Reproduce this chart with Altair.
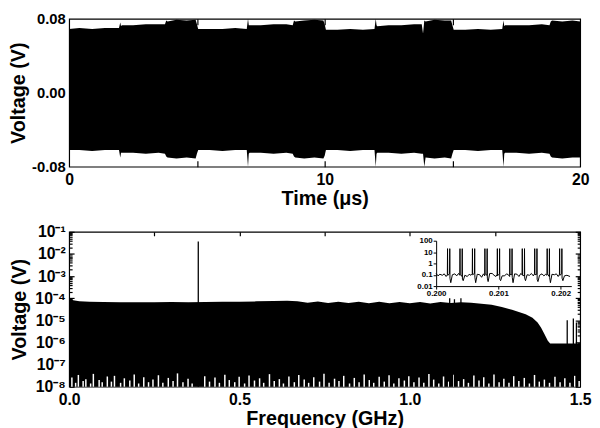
import altair as alt
import pandas as pd

# ---------------- top panel: time-domain envelope ----------------
t_us = [0.00, 0.40, 0.90, 1.40, 1.95, 2.00, 2.03, 2.06, 2.50, 3.00,
        3.50, 3.75, 3.80, 3.85, 4.20, 4.60, 4.95, 5.00, 5.05, 5.50,
        6.00, 6.50, 6.95, 7.00, 7.03, 7.06, 7.50, 8.00, 8.50, 8.75,
        8.80, 8.85, 9.20, 9.60, 9.95, 10.00, 10.05, 10.50, 11.00, 11.50,
        11.95, 12.00, 12.03, 12.06, 12.50, 13.00, 13.50, 13.80, 13.85, 13.90,
        13.95, 14.30, 14.70, 14.95, 15.00, 15.05, 15.50, 16.00, 16.50, 16.95,
        17.00, 17.03, 17.06, 17.50, 18.00, 18.50, 18.80, 18.85, 18.90, 19.30,
        19.70, 20.00]
v_upper = [0.069, 0.070, 0.069, 0.070, 0.070, 0.076, 0.072, 0.073, 0.073, 0.074,
           0.074, 0.074, 0.078, 0.077, 0.079, 0.078, 0.079, 0.074, 0.069, 0.069,
           0.069, 0.070, 0.069, 0.080, 0.073, 0.073, 0.073, 0.074, 0.074, 0.073,
           0.078, 0.077, 0.078, 0.079, 0.078, 0.074, 0.068, 0.068, 0.069, 0.068,
           0.069, 0.080, 0.073, 0.072, 0.073, 0.073, 0.074, 0.074, 0.064, 0.078,
           0.077, 0.079, 0.078, 0.078, 0.073, 0.068, 0.068, 0.069, 0.068, 0.069,
           0.078, 0.072, 0.073, 0.073, 0.073, 0.074, 0.073, 0.077, 0.078, 0.077,
           0.078, 0.077]
v_lower = [-0.062, -0.062, -0.063, -0.062, -0.062, -0.070, -0.065, -0.065, -0.065, -0.066,
           -0.065, -0.066, -0.069, -0.070, -0.071, -0.070, -0.071, -0.066, -0.062, -0.062,
           -0.063, -0.062, -0.062, -0.080, -0.066, -0.065, -0.065, -0.066, -0.065, -0.066,
           -0.069, -0.070, -0.071, -0.070, -0.071, -0.068, -0.062, -0.062, -0.063, -0.062,
           -0.062, -0.080, -0.066, -0.065, -0.065, -0.066, -0.065, -0.066, -0.066, -0.080,
           -0.070, -0.071, -0.070, -0.071, -0.066, -0.062, -0.062, -0.063, -0.062, -0.062,
           -0.080, -0.066, -0.065, -0.065, -0.066, -0.065, -0.066, -0.069, -0.070, -0.071,
           -0.070, -0.070]

# ---------------- bottom panel: spectrum envelope ----------------
f_env = [0.000, 0.004, 0.012, 0.030, 0.060, 0.100, 0.150, 0.200, 0.250, 0.300,
         0.350, 0.400, 0.450, 0.500, 0.550, 0.600, 0.640, 0.670, 0.700, 0.730,
         0.760, 0.790, 0.820, 0.850, 0.880, 0.910, 0.940, 0.970, 1.000, 1.030,
         1.060, 1.090, 1.120, 1.150, 1.180, 1.210, 1.240, 1.270, 1.300, 1.320,
         1.340, 1.360, 1.375, 1.385, 1.395, 1.405, 1.412, 1.450, 1.500]
env_top = [1.2e-4, 9.5e-5, 8.0e-5, 7.3e-5, 7.0e-5, 6.8e-5, 6.6e-5, 6.5e-5, 6.6e-5, 6.7e-5,
           6.6e-5, 6.8e-5, 6.9e-5, 7.0e-5, 7.2e-5, 7.5e-5, 7.6e-5, 7.2e-5, 6.2e-5, 7.1e-5,
           6.1e-5, 7.0e-5, 6.0e-5, 6.9e-5, 5.9e-5, 6.9e-5, 5.9e-5, 6.8e-5, 5.9e-5, 6.8e-5,
           5.8e-5, 6.7e-5, 6.0e-5, 6.6e-5, 6.2e-5, 5.6e-5, 5.0e-5, 4.0e-5, 3.0e-5, 2.4e-5,
           1.9e-5, 1.3e-5, 8.0e-6, 4.8e-6, 2.4e-6, 1.2e-6, 9.0e-7, 9.0e-7, 9.0e-7]

spike_f = [0.379, 1.117, 1.131, 1.150, 1.462, 1.480, 1.489]
spike_v = [3.7e-2, 1.0e-4, 9.0e-5, 1.0e-4, 1.0e-5, 1.2e-5, 8.0e-6]

gap_f = [0.008, 0.019, 0.027, 0.041, 0.049, 0.063, 0.071, 0.088, 0.097, 0.112,
         0.124, 0.133, 0.151, 0.162, 0.178, 0.191, 0.204, 0.219, 0.233, 0.246,
         0.262, 0.275, 0.291, 0.305, 0.318, 0.334, 0.349, 0.361, 0.398, 0.412,
         0.428, 0.441, 0.457, 0.470, 0.486, 0.499, 0.515, 0.528, 0.544, 0.559,
         0.571, 0.588, 0.602, 0.617, 0.629, 0.645, 0.661, 0.674, 0.690, 0.703,
         0.718, 0.735, 0.748, 0.763, 0.779, 0.792, 0.806, 0.823, 0.837, 0.851,
         0.866, 0.881, 0.894, 0.910, 0.925, 0.939, 0.953, 0.968, 0.984, 0.997,
         1.012, 1.027, 1.041, 1.056, 1.070, 1.085, 1.099, 1.114, 1.129, 1.143,
         1.158, 1.172, 1.188, 1.203, 1.217, 1.232, 1.247, 1.262, 1.276, 1.291,
         1.305, 1.320, 1.336, 1.351, 1.366, 1.380, 1.395, 1.410, 1.426, 1.441,
         1.455, 1.470, 1.484, 1.497]
gap_v = [2.6e-8, 1.5e-8, 3.4e-8, 1.8e-8, 2.2e-8, 1.4e-8, 3.8e-8, 2.0e-8, 1.6e-8, 2.9e-8,
         1.7e-8, 3.1e-8, 1.5e-8, 2.4e-8, 1.9e-8, 3.6e-8, 1.4e-8, 2.7e-8, 1.6e-8, 2.1e-8,
         3.3e-8, 1.5e-8, 2.5e-8, 1.8e-8, 4.0e-8, 1.6e-8, 2.3e-8, 1.4e-8, 3.0e-8, 1.7e-8,
         2.6e-8, 1.5e-8, 3.5e-8, 2.0e-8, 1.6e-8, 2.8e-8, 1.4e-8, 3.2e-8, 1.9e-8, 2.4e-8,
         1.5e-8, 3.7e-8, 1.8e-8, 2.2e-8, 1.4e-8, 2.9e-8, 1.6e-8, 3.4e-8, 2.1e-8, 1.5e-8,
         2.7e-8, 1.7e-8, 3.9e-8, 1.5e-8, 2.3e-8, 1.8e-8, 3.1e-8, 1.4e-8, 2.5e-8, 1.6e-8,
         3.6e-8, 2.0e-8, 1.5e-8, 2.8e-8, 1.7e-8, 3.3e-8, 1.4e-8, 2.4e-8, 1.9e-8, 3.0e-8,
         1.6e-8, 2.6e-8, 1.5e-8, 3.8e-8, 2.1e-8, 1.4e-8, 2.9e-8, 1.7e-8, 3.5e-8, 1.8e-8,
         2.2e-8, 1.5e-8, 3.2e-8, 1.9e-8, 2.7e-8, 1.4e-8, 3.6e-8, 1.6e-8, 2.3e-8, 1.5e-8,
         3.0e-8, 1.8e-8, 2.5e-8, 1.4e-8, 3.4e-8, 1.7e-8, 2.1e-8, 1.5e-8, 2.8e-8, 1.6e-8,
         2.4e-8, 1.5e-8, 3.1e-8, 1.8e-8]

# ---------------- inset: zoom of the spectrum (offset in kHz from 0.200 GHz) ----------------
inset_khz = [0, 30, 60,
             100, 130, 160, 180, 183, 186, 216, 219, 222, 235, 260,
             300, 330, 360, 380, 383, 386, 416, 419, 422, 435, 460,
             500, 530, 560, 580, 583, 586, 616, 619, 622, 635, 660,
             700, 730, 760, 780, 783, 786, 816, 819, 822, 835, 860,
             900, 930, 960, 980, 983, 986, 1016, 1019, 1022, 1035, 1060,
             1100, 1130, 1160, 1180, 1183, 1186, 1216, 1219, 1222, 1235, 1260,
             1300, 1330, 1360, 1380, 1383, 1386, 1416, 1419, 1422, 1435, 1460,
             1500, 1530, 1560, 1580, 1583, 1586, 1616, 1619, 1622, 1635, 1660,
             1700, 1730, 1760, 1780, 1783, 1786, 1816, 1819, 1822, 1835, 1860,
             1900, 1930, 1960, 1980, 1983, 1986, 2016, 2019, 2022, 2035, 2060,
             2100, 2150]
inset_v = [0.13, 0.08, 0.11,
           0.09, 0.12, 0.07, 0.10, 20, 0.09, 0.12, 20, 0.05, 0.020, 0.10,
           0.12, 0.08, 0.13, 0.09, 20, 0.11, 0.07, 20, 0.04, 0.030, 0.09,
           0.07, 0.11, 0.09, 0.12, 20, 0.10, 0.13, 20, 0.06, 0.020, 0.11,
           0.10, 0.06, 0.12, 0.08, 20, 0.12, 0.09, 20, 0.05, 0.025, 0.13,
           0.13, 0.09, 0.07, 0.11, 20, 0.08, 0.12, 20, 0.04, 0.030, 0.08,
           0.08, 0.12, 0.10, 0.07, 20, 0.11, 0.10, 20, 0.06, 0.020, 0.12,
           0.11, 0.07, 0.13, 0.10, 20, 0.09, 0.08, 20, 0.05, 0.030, 0.10,
           0.09, 0.13, 0.08, 0.12, 20, 0.10, 0.11, 20, 0.04, 0.025, 0.09,
           0.12, 0.08, 0.11, 0.09, 20, 0.12, 0.07, 20, 0.06, 0.020, 0.11,
           0.10, 0.12, 0.07, 0.11, 20, 0.09, 0.12, 20, 0.05, 0.030, 0.08,
           0.09, 0.07]

FONT = "Liberation Sans"
W = 518
H1 = 150
H2 = 157

top_df = pd.DataFrame({"t": t_us, "hi": v_upper, "lo": v_lower})
env_df = pd.DataFrame({"f": f_env, "v": env_top})
spk_df = pd.DataFrame({"f": spike_f, "v": spike_v})
gap_df = pd.DataFrame({"f": gap_f, "v": gap_v})
ins_df = pd.DataFrame({"f": [0.2 + k * 1e-6 for k in inset_khz], "v": inset_v})


def tick_axis(orient, size, values):
    return alt.Axis(orient=orient, offset=-size, tickSize=size, values=values, labels=False,
                    domain=False, title=None, grid=False, tickColor="black", tickWidth=1.2,
                    minExtent=0)


# ---------- top panel ----------
def xs_t():
    return alt.Scale(domain=[0, 20], nice=False, zero=False)


def ys_t():
    return alt.Scale(domain=[-0.08, 0.08], nice=False, zero=False)


top_area = alt.Chart(top_df).mark_area(color="black", opacity=1).encode(
    x=alt.X("t:Q", scale=xs_t(),
            axis=alt.Axis(orient="bottom", values=[0, 10, 20], format="d", ticks=False, domain=False,
                          labelFlush=False, labelFontSize=16, labelPadding=5,
                          title="Time (μs)", titleFontSize=20, titlePadding=1)),
    y=alt.Y("hi:Q", scale=ys_t(),
            axis=alt.Axis(orient="left", values=[-0.08, 0, 0.08], ticks=False, domain=False,
                          labelExpr="datum.value < 0 ? '-' + format(-datum.value, '.2f') : format(datum.value, '.2f')",
                          labelFontSize=15, labelPadding=4, labelOverlap=False, labelFlush=False,
                          title="Voltage (V)", titleFontSize=20, titlePadding=3)),
    y2="lo:Q",
)

top_ticks_t = alt.Chart(top_df).mark_point(opacity=0).encode(
    x=alt.X("t:Q", scale=xs_t(), axis=tick_axis("top", 6, [5, 10, 15])),
    y=alt.Y("hi:Q", scale=ys_t(), axis=None),
)
top_ticks_b = alt.Chart(top_df).mark_point(opacity=0).encode(
    x=alt.X("t:Q", scale=xs_t(), axis=tick_axis("bottom", 6, [5, 10, 15])),
    y=alt.Y("hi:Q", scale=ys_t(), axis=None),
)

top = alt.layer(top_area, top_ticks_t, top_ticks_b).resolve_scale(
    x="independent", y="independent").properties(width=W, height=H1)

# ---------- bottom panel ----------
def xs_b():
    return alt.Scale(domain=[0, 1.5], nice=False, zero=False)


def ys_b():
    return alt.Scale(type="log", domain=[1e-8, 1e-1], nice=False)


decades = [1e-8, 1e-7, 1e-6, 1e-5, 1e-4, 1e-3, 1e-2, 1e-1]
minor = [m * 10.0 ** k for k in range(-8, -1) for m in range(2, 10)]
sup = "['⁰','⁻¹','⁻²','⁻³','⁻⁴','⁻⁵','⁻⁶','⁻⁷','⁻⁸']"

spec_area = alt.Chart(env_df).mark_area(color="black", opacity=1).encode(
    x=alt.X("f:Q", scale=xs_b(),
            axis=alt.Axis(orient="bottom", values=[0, 0.5, 1.0, 1.5], format=".1f", ticks=False,
                          domain=False, labelFlush=False, labelFontSize=16, labelPadding=5,
                          title="Frequency (GHz)", titleFontSize=20, titlePadding=1)),
    y=alt.Y("v:Q", scale=ys_b(),
            axis=alt.Axis(orient="left", values=decades, ticks=False, domain=False,
                          labelExpr="'10' + " + sup + "[round(-log(datum.value)/LN10)]",
                          labelFontSize=16, labelPadding=4, labelOverlap=False,
                          title="Voltage (V)", titleFontSize=20, titlePadding=6)),
    y2=alt.datum(1e-8),
)

gaps = alt.Chart(gap_df).mark_rule(color="white", strokeWidth=1.5).encode(
    x=alt.X("f:Q", scale=xs_b(), axis=None),
    y=alt.Y("v:Q", scale=ys_b(), axis=None),
    y2=alt.datum(1e-8),
)

spikes = alt.Chart(spk_df).mark_rule(color="black", strokeWidth=1.3).encode(
    x=alt.X("f:Q", scale=xs_b(), axis=None),
    y=alt.Y("v:Q", scale=ys_b(), axis=None),
    y2=alt.datum(1e-8),
)

INS_L, INS_R = 372, 509
INS_B, INS_T = 55, 9
inset = alt.Chart(ins_df).mark_line(color="black", strokeWidth=1).encode(
    x=alt.X("f:Q", scale=alt.Scale(domain=[0.2, 0.20217], range=[INS_L, INS_R], nice=False, zero=False),
            axis=alt.Axis(orient="bottom", offset=-(H2 - INS_B), values=[0.200, 0.201, 0.202],
                          format=".3f", labelFontSize=8, labelPadding=1, tickSize=3, tickColor="black",
                          domain=True, domainColor="black", domainWidth=1, labelFlush=False,
                          title=None, grid=False, minExtent=0)),
    y=alt.Y("v:Q", scale=alt.Scale(type="log", domain=[0.01, 100], range=[INS_B, INS_T], nice=False),
            axis=alt.Axis(orient="left", offset=-INS_L, values=[0.01, 0.1, 1, 10, 100],
                          format="~g", labelFontSize=8, labelPadding=1, tickSize=3, tickColor="black",
                          domain=True, domainColor="black", domainWidth=1, labelOverlap=False,
                          title=None, grid=False, minExtent=0)),
)


def bt_x(orient, size, values):
    return alt.Chart(env_df).mark_point(opacity=0).encode(
        x=alt.X("f:Q", scale=xs_b(), axis=tick_axis(orient, size, values)),
        y=alt.Y("v:Q", scale=ys_b(), axis=None),
    )


def bt_y(orient, size, values):
    return alt.Chart(env_df).mark_point(opacity=0).encode(
        x=alt.X("f:Q", scale=xs_b(), axis=None),
        y=alt.Y("v:Q", scale=ys_b(), axis=tick_axis(orient, size, values)),
    )


bottom = alt.layer(
    spec_area, gaps, spikes, inset,
    bt_x("top", 4, [0.25, 0.5, 0.75, 1.0, 1.25]),
    bt_y("left", 5, decades), bt_y("left", 3, minor),
    bt_y("right", 5, decades), bt_y("right", 3, minor),
).resolve_scale(x="independent", y="independent").properties(width=W, height=H2)

chart = alt.vconcat(top, bottom, spacing=14).configure_view(
    stroke="black", strokeWidth=1.2
).configure_axis(
    labelFont=FONT, titleFont=FONT, labelFontWeight="bold", titleFontWeight="bold",
    labelColor="black", titleColor="black", grid=False
).properties(background="white", padding=0)

chart.save("out.html", embed_options={"renderer": "svg", "actions": False})
